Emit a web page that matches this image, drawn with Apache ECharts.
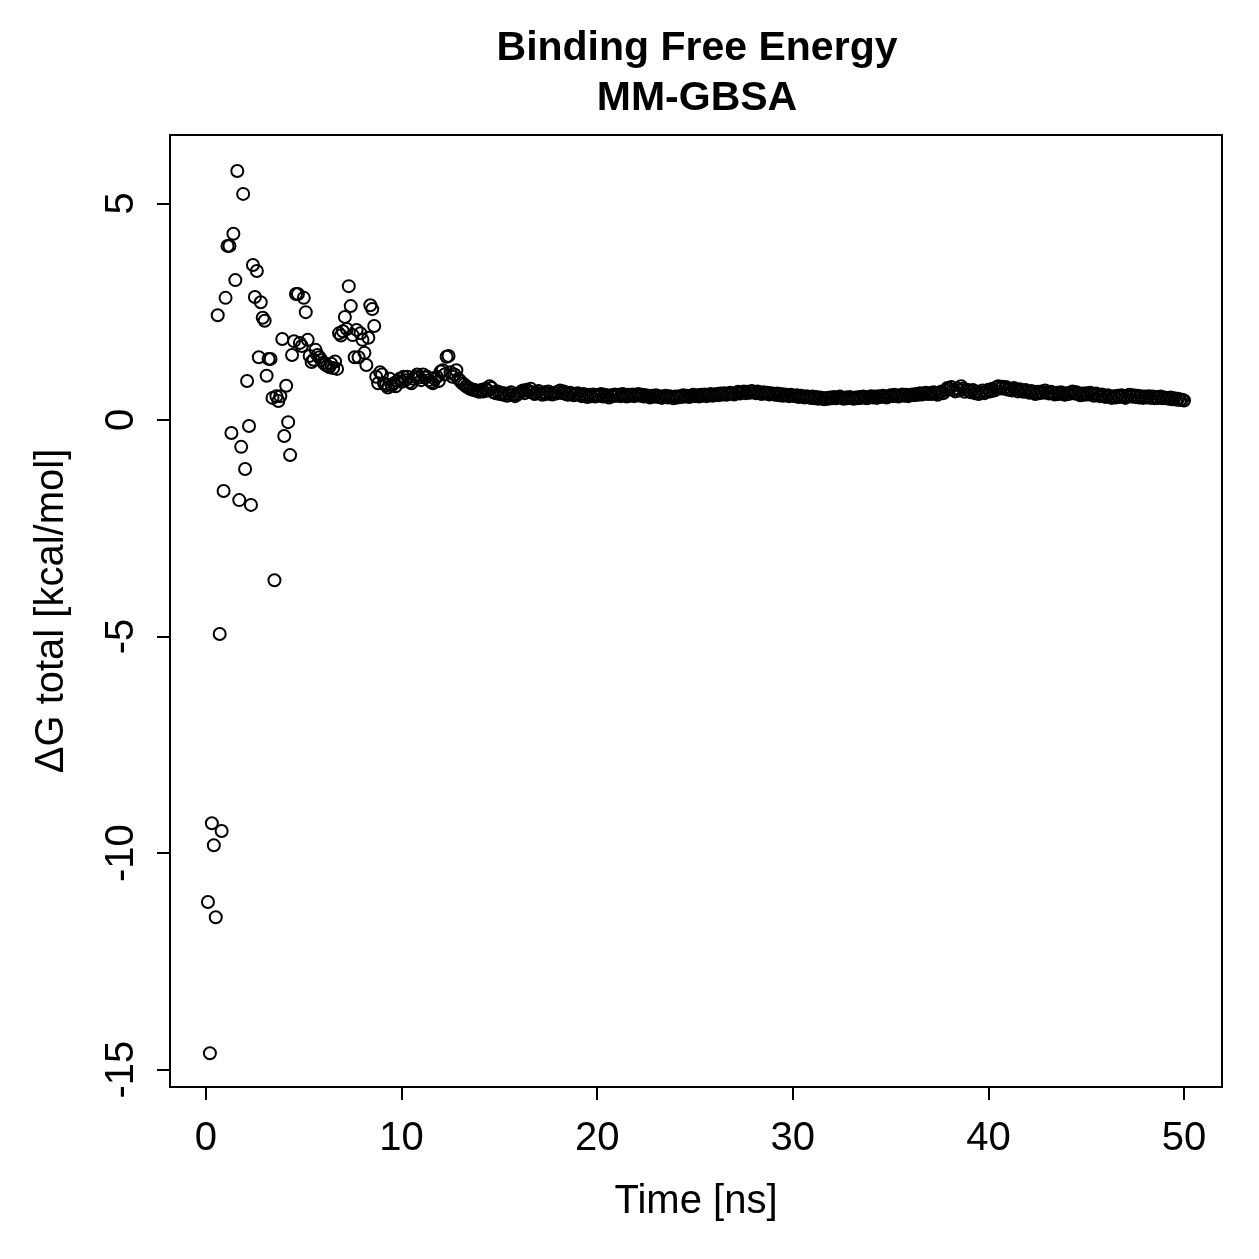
<!DOCTYPE html>
<html>
<head>
<meta charset="utf-8">
<script src="https://cdn.jsdelivr.net/npm/echarts@6/dist/echarts.min.js"></script>
<style>
html,body{margin:0;padding:0;background:#fff;}
#chart{width:1259px;height:1259px;}
</style>
</head>
<body>
<div id="chart"></div>
<script>
// Frame times: 0.1 ns per frame, 500 frames
const timeStart = 0.1;
const timeStep = 0.1;

// ΔG total values (kcal/mol), one per frame
const dgEarly = [
  -11.13,-14.62,-9.31,-9.82,-11.48,2.42,-4.94,-9.49,-1.64,2.82,
  4.02,4.02,-0.30,4.30,3.23,5.75,-1.85,-0.62,5.22,-1.13,
  0.90,-0.14,-1.96,3.58,2.84,3.44,1.45,2.72,2.36,2.29,
  1.02,1.41,1.41,0.51,-3.70,0.55,0.44,0.55,1.87,-0.37,
  0.79,-0.05,-0.81,1.50,1.82,2.91,2.91,1.78,1.71,2.82,
  2.49,1.85,1.48,1.34,1.39,1.62,1.50,1.45,1.38,1.32,
  1.28,1.25,1.22,1.30,1.20,1.35,1.18,2.00,1.95,2.05,
  2.38,2.10,3.09,2.63,1.96,1.45,2.08,1.45,2.00,1.85,
  1.55,1.27,1.90,2.65,2.56,2.17,1.00,0.85,1.10,1.05,
  0.85,0.80,0.75,0.95,0.80,0.85,0.78,0.90,0.95,0.88,
  1.00,0.92,1.00,0.88,0.85,0.95,1.00,1.05,0.98,0.92,
  1.05,0.98,1.00,0.92,0.88,0.85,0.95,1.00,0.90,1.12,
  1.15,1.05,1.46,1.48,1.10,1.00,1.05,1.15,0.95,0.90,
  0.85,0.82,0.78,0.75,0.72,0.70,0.70,0.68,0.66,0.65
];
const dgLate = [
  0.70,0.66,0.72,0.68,0.78,0.74,0.64,0.62,0.66,0.60,
  0.63,0.58,0.61,0.56,0.60,0.64,0.59,0.55,0.58,0.62,
  0.65,0.68,0.62,0.70,0.66,0.72,0.64,0.60,0.63,0.67,
  0.61,0.58,0.64,0.60,0.66,0.62,0.59,0.63,0.61,0.65,
  0.68,0.62,0.66,0.60,0.58,0.63,0.61,0.57,0.60,0.62,
  0.58,0.55,0.60,0.56,0.53,0.58,0.55,0.59,0.54,0.57,
  0.56,0.60,0.54,0.58,0.55,0.52,0.57,0.55,0.59,0.56,
  0.58,0.55,0.60,0.57,0.54,0.58,0.56,0.59,0.55,0.57,
  0.60,0.56,0.58,0.54,0.57,0.55,0.52,0.56,0.54,0.57,
  0.53,0.55,0.51,0.54,0.56,0.52,0.55,0.53,0.50,0.54,
  0.52,0.55,0.53,0.57,0.54,0.56,0.53,0.55,0.58,0.55,
  0.57,0.54,0.58,0.56,0.59,0.55,0.57,0.60,0.56,0.58,
  0.60,0.57,0.61,0.59,0.62,0.58,0.60,0.63,0.61,0.59,
  0.62,0.65,0.61,0.64,0.66,0.62,0.65,0.63,0.67,0.64,
  0.62,0.66,0.63,0.60,0.64,0.61,0.63,0.59,0.62,0.60,
  0.58,0.61,0.57,0.60,0.56,0.59,0.57,0.55,0.58,0.56,
  0.55,0.57,0.53,0.56,0.54,0.52,0.55,0.53,0.51,0.54,
  0.50,0.53,0.49,0.52,0.50,0.48,0.51,0.49,0.52,0.50,
  0.53,0.50,0.52,0.54,0.51,0.49,0.52,0.50,0.53,0.51,
  0.49,0.52,0.50,0.53,0.51,0.54,0.52,0.50,0.53,0.55,
  0.52,0.54,0.51,0.55,0.53,0.56,0.54,0.52,0.55,0.57,
  0.55,0.58,0.56,0.54,0.57,0.59,0.56,0.58,0.55,0.57,
  0.59,0.57,0.60,0.58,0.62,0.59,0.61,0.63,0.60,0.62,
  0.60,0.64,0.61,0.58,0.63,0.66,0.62,0.68,0.74,0.72,
  0.76,0.70,0.66,0.73,0.68,0.78,0.72,0.65,0.70,0.67,
  0.64,0.69,0.62,0.66,0.60,0.64,0.68,0.62,0.65,0.70,
  0.66,0.72,0.68,0.75,0.78,0.73,0.77,0.72,0.76,0.70,
  0.72,0.68,0.74,0.70,0.66,0.71,0.68,0.65,0.69,0.66,
  0.63,0.67,0.64,0.60,0.65,0.62,0.66,0.63,0.68,0.64,
  0.61,0.65,0.62,0.59,0.63,0.60,0.64,0.61,0.58,0.62,
  0.60,0.63,0.66,0.61,0.64,0.60,0.57,0.61,0.58,0.62,
  0.59,0.63,0.60,0.56,0.61,0.58,0.55,0.59,0.56,0.53,
  0.57,0.54,0.51,0.55,0.52,0.56,0.53,0.57,0.54,0.51,
  0.55,0.58,0.54,0.57,0.53,0.56,0.52,0.55,0.51,0.54,
  0.52,0.55,0.51,0.54,0.50,0.53,0.51,0.54,0.50,0.52,
  0.51,0.49,0.52,0.48,0.50,0.47,0.49,0.46,0.47,0.45
];

const xTicks = [0, 10, 20, 30, 40, 50];
const yTicks = [-15, -10, -5, 0, 5];
const titleLines = ['Binding Free Energy', 'MM-GBSA'];
const xTitle = 'Time [ns]';
const yTitle = '\u0394G total [kcal/mol]';

const dgValues = dgEarly.concat(dgLate);
const points = dgValues.map((v, i) => [+(timeStart + i * timeStep).toFixed(1), v]);

const FONT = '"Liberation Sans", Arial, Helvetica, sans-serif';
const chart = echarts.init(document.getElementById('chart'), null, {renderer: 'canvas'});
chart.setOption({
  animation: false,
  backgroundColor: '#ffffff',
  title: {
    text: titleLines.join('\n'),
    left: 692,
    textAlign: 'center',
    top: 19,
    textStyle: {fontFamily: FONT, fontWeight: 'bold', fontSize: 41, lineHeight: 50, color: '#000'}
  },
  grid: {
    left: 170, right: 37, top: 135, bottom: 172,
    show: true, borderColor: '#000', borderWidth: 2, backgroundColor: 'transparent'
  },
  xAxis: {
    type: 'value', min: -1.84, max: 51.94,
    position: 'bottom',
    splitLine: {show: false},
    axisLine: {show: false, onZero: false},
    axisTick: {show: true, inside: false, length: 13, customValues: xTicks, lineStyle: {color: '#000', width: 2}},
    axisLabel: {show: true, customValues: xTicks, margin: 32, fontFamily: FONT, fontSize: 40, color: '#000'},
    name: xTitle, nameLocation: 'middle', nameGap: 95,
    nameTextStyle: {fontFamily: FONT, fontSize: 40, color: '#000'}
  },
  yAxis: {
    type: 'value', min: -15.40, max: 6.58,
    position: 'left',
    splitLine: {show: false},
    axisLine: {show: false, onZero: false},
    axisTick: {show: true, inside: false, length: 13, customValues: yTicks, lineStyle: {color: '#000', width: 2}},
    axisLabel: {show: true, customValues: yTicks, rotate: 90, margin: 28, fontFamily: FONT, fontSize: 40, color: '#000'},
    name: yTitle, nameLocation: 'middle', nameGap: 98, nameRotate: 90,
    nameTextStyle: {fontFamily: FONT, fontSize: 40, color: '#000'}
  },
  series: [{
    type: 'scatter',
    data: points,
    symbol: 'circle',
    symbolSize: 12,
    itemStyle: {color: 'rgba(0,0,0,0)', borderColor: '#000', borderWidth: 2, opacity: 1},
    emphasis: {disabled: true}
  }]
});
</script>
</body>
</html>
